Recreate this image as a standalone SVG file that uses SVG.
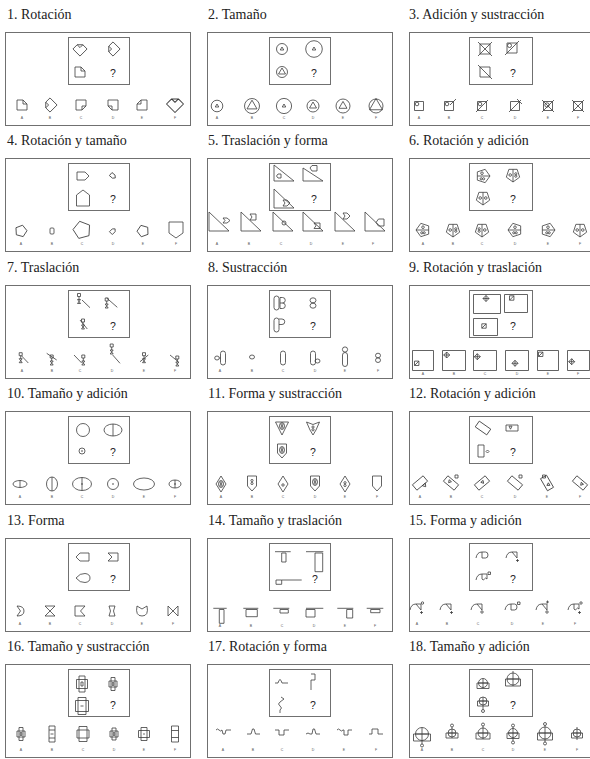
<svg xmlns="http://www.w3.org/2000/svg" width="590" height="759" viewBox="0 0 590 759">
<style>
.bg{fill:#fff}
.box{fill:none;stroke:#707070;stroke-width:1}
.f{fill:none;stroke:#3c3c3c;stroke-width:0.8;stroke-linejoin:round}
.dot{fill:#3c3c3c;stroke:none}
.t{font-family:"Liberation Serif","Times New Roman",serif;font-size:14px;fill:#222}
.q{font-family:"Liberation Sans",Arial,sans-serif;font-size:10.5px;fill:#222;text-anchor:middle}
.l{font-family:"Liberation Sans",Arial,sans-serif;font-size:3.5px;fill:#555;text-anchor:middle}
</style>
<defs>
<path id="dog" d="M-5,-5H1L5,-1V5H-5Z M1,-5V-1H5"/>
<g id="pv"><polygon points="0,-7 6.66,-2.16 4.11,5.66 -4.11,5.66 -6.66,-2.16"/><line x1="0" y1="-7" x2="0" y2="5.66"/></g>
<path id="hg" d="M-1.5,-5H1.5V-2H-1.5Z M0,-2V1 M-1.5,1H1.5L-1.5,5H1.5Z"/>
<rect id="st" x="-2.5" y="-7" width="5" height="14" rx="2.5"/>
<path id="dm" d="M0,-3L3,0L0,3L-3,0Z M-3,0H3 M0,-3V3"/>
<path id="sq" d="M-2.2,-2.2H2.2V2.2H-2.2Z M-2.2,2.2L2.2,-2.2"/>
<path id="hk" d="M-7,3 Q-6,-3 -1,-3"/>
<path id="tri" d="M-1,-3 L4,-3 L4,3 Z"/>
<path id="dbx" d="M-1,-3 H2.5 Q5,-3 5,0 Q5,3 2.5,3 H-1 Z"/>
<path id="wv" d="M-1,-3 H4 V2 Q2.5,0 1.5,2 Q0,4 -1,2 Z"/>
<path id="pl" d="M-1.5,0H1.5M0,-1.5V1.5"/>
<path id="pt" d="M-3,-2 H1 L3,0 L1,2 H-3 Z"/>
<polygon id="pg6" points="0,-6 5.71,-1.85 3.53,4.85 -3.53,4.85 -5.71,-1.85"/>
<polygon id="ti" points="-1.5,-1.3 1.5,-1.3 0,1.3"/>
</defs>
<rect class="bg" width="590" height="759"/>

<g id="p1" transform="translate(5,32)">
<text class="t" x="2" y="-13">1. Rotación</text>
<rect class="box" x="0.5" y="0.5" width="185" height="93"/>
<rect class="box" x="63.5" y="5.5" width="61" height="47"/>
<g class="f">
<use href="#dog" transform="translate(75,17) rotate(-45)"/>
<use href="#dog" transform="translate(108,17) rotate(-135)"/>
<use href="#dog" transform="translate(75,40)"/>
<use href="#dog" transform="translate(17,73)"/>
<use href="#dog" transform="translate(45,73) rotate(-135)"/>
<use href="#dog" transform="translate(76,73) rotate(90)"/>
<use href="#dog" transform="translate(108,73) rotate(180)"/>
<use href="#dog" transform="translate(137,73) rotate(-90)"/>
<use href="#dog" transform="translate(170,72) rotate(-45) scale(1.2)"/>
</g>
<text class="q" x="108" y="44.5">?</text>
<g class="l"><text x="17" y="87">A</text><text x="45" y="87">B</text><text x="76" y="87">C</text><text x="108" y="87">D</text><text x="137" y="87">E</text><text x="170" y="87">F</text></g>
</g>

<g id="p2" transform="translate(207,32)">
<text class="t" x="1" y="-13">2. Tamaño</text>
<rect class="box" x="0.5" y="0.5" width="185" height="93"/>
<rect class="box" x="62.5" y="5.5" width="61" height="47"/>
<g class="f">
<circle cx="75" cy="17" r="5.5"/><polygon points="75,15 76.75,18 73.25,18"/>
<circle cx="107" cy="17" r="8.3"/><polygon points="107,15 108.75,18 105.25,18"/>
<circle cx="75" cy="40" r="5.5"/><polygon points="75,36 78.5,42 71.5,42"/>
<circle cx="10" cy="74" r="5.8"/><polygon points="10,72 11.75,75 8.25,75"/>
<circle cx="45" cy="74" r="7.5"/><polygon points="45,68.2 50,76.9 40,76.9"/>
<circle cx="77" cy="74" r="7.6"/><polygon points="77,72 78.75,75 75.25,75"/>
<circle cx="106" cy="74" r="6"/><polygon points="106,70 109.5,76 102.5,76"/>
<circle cx="136" cy="74" r="7"/><polygon points="136,69.4 140,76.3 132,76.3"/>
<circle cx="169" cy="74" r="7"/><polygon points="169,66.5 175.5,77.75 162.5,77.75"/>
</g>
<text class="q" x="107" y="44.5">?</text>
<g class="l"><text x="10" y="87">A</text><text x="45" y="87">B</text><text x="77" y="87">C</text><text x="106" y="87">D</text><text x="136" y="87">E</text><text x="169" y="87">F</text></g>
</g>

<g id="p3" transform="translate(409,32)">
<text class="t" x="0" y="-13">3. Adición y sustracción</text>
<rect class="box" x="0.5" y="0.5" width="185" height="93"/>
<rect class="box" x="60.5" y="5.5" width="63" height="47"/>
<g class="f">
<rect x="71" y="12" width="10" height="10"/><path d="M69,10L83,24M83,10L69,24"/>
<rect x="98" y="11" width="10" height="10"/><circle cx="100.5" cy="13.5" r="2"/><path d="M96,23L110,9"/>
<rect x="71" y="35" width="10" height="10"/><path d="M69,33L83,47"/>
<rect x="5.5" y="69.5" width="9" height="9"/><circle cx="8" cy="72" r="1.8"/>
<rect x="35.5" y="69.5" width="9" height="9"/><circle cx="38" cy="72" r="1.8"/><path d="M41,73L47,67"/>
<rect x="68.5" y="69.5" width="9" height="9"/><circle cx="71" cy="72" r="1.8"/><path d="M67,80L79,68"/>
<rect x="101.5" y="69.5" width="9" height="9"/><path d="M100,80L112,68M108,67L113,72"/>
<rect x="134.5" y="69.5" width="9" height="9"/><path d="M133,68L145,80M145,68L133,80"/><circle cx="138" cy="73" r="2.2"/>
<rect x="164.5" y="69.5" width="9" height="9"/><path d="M163,68L175,80M175,68L163,80"/>
</g>
<text class="q" x="104" y="44.5">?</text>
<g class="l"><text x="10" y="87">A</text><text x="40" y="87">B</text><text x="73" y="87">C</text><text x="106" y="87">D</text><text x="139" y="87">E</text><text x="169" y="87">F</text></g>
</g>

<g id="p4" transform="translate(5,158)">
<text class="t" x="2" y="-13">4. Rotación y tamaño</text>
<rect class="box" x="0.5" y="0.5" width="185" height="93"/>
<rect class="box" x="63.5" y="5.5" width="61" height="47"/>
<g class="f">
<path d="M72,14H80L84,18L80,22H72Z"/>
<use href="#pt" transform="translate(108,18) rotate(40)"/>
<path d="M71.5,37L78,32L84.5,37V48H71.5Z"/>
<use href="#pg6" transform="translate(16,73) rotate(15)"/>
<rect x="45" y="70" width="4" height="6" rx="1"/>
<polygon points="0,-9 8.56,-2.78 5.29,7.28 -5.29,7.28 -8.56,-2.78" transform="translate(77,72) rotate(-15)"/>
<use href="#pt" transform="translate(108,73) rotate(-45)"/>
<use href="#pg6" transform="translate(138,73) rotate(-20)"/>
<path d="M164,64H178V75L171,80L164,75Z"/>
</g>
<text class="q" x="108" y="44.5">?</text>
<g class="l"><text x="16" y="87">A</text><text x="47" y="87">B</text><text x="77" y="87">C</text><text x="108" y="87">D</text><text x="138" y="87">E</text><text x="171" y="87">F</text></g>
</g>

<g id="p5" transform="translate(207,158)">
<text class="t" x="1" y="-13">5. Traslación y forma</text>
<rect class="box" x="0.5" y="0.5" width="185" height="93"/>
<rect class="box" x="62.5" y="5.5" width="61" height="47"/>
<g class="f">
<path d="M67,7V23H87Z"/><path d="M69.5,18L71,16H74V20H71Z"/>
<path d="M96,10V23H116Z"/><path d="M103,10L105,7.5H110V13H105Z"/>
<path d="M67,31V50H87Z"/><path d="M76,42H80L83,45L80,48H76L78,45Z"/>
<path d="M2,54V73H22Z"/><path d="M16,60H20L23,62.5L20,65H16L18,62.5Z"/>
<path d="M34,54V73H54Z"/><path d="M43,56H49V62H43L45,59Z"/>
<path d="M66,54V73H86Z"/><circle cx="77" cy="65" r="2"/>
<path d="M96,54V73H116Z"/><path d="M107,65H113V70.5H107L109,67.75Z"/>
<path d="M128,54V73H148Z"/><path d="M136,55H140L143,58L140,61H136L138,58Z"/>
<path d="M158,54V73H178Z"/><path d="M169,64.5L171.5,61H177V68H171.5Z"/>
</g>
<text class="q" x="107" y="44.5">?</text>
<g class="l"><text x="10" y="87">A</text><text x="42" y="87">B</text><text x="74" y="87">C</text><text x="104" y="87">D</text><text x="136" y="87">E</text><text x="166" y="87">F</text></g>
</g>

<g id="p6" transform="translate(409,158)">
<text class="t" x="0" y="-13">6. Rotación y adición</text>
<rect class="box" x="0.5" y="0.5" width="185" height="93"/>
<rect class="box" x="60.5" y="5.5" width="63" height="47"/>
<g class="f">
<g transform="translate(74,18) rotate(90)"><use href="#pv"/><circle cx="-2.8" cy="1" r="1.3"/><circle cx="2.8" cy="-0.6" r="1.1"/><circle cx="2.8" cy="1.8" r="1.1"/></g>
<g transform="translate(104,17) rotate(180)"><use href="#pv"/><circle cx="2.8" cy="0" r="1.3"/><circle cx="-2.8" cy="-1.2" r="1.1"/><circle cx="-2.8" cy="1.2" r="1.1"/></g>
<g transform="translate(74,40) rotate(180)"><use href="#pv"/><circle cx="-2.8" cy="0" r="1.3"/><circle cx="2.8" cy="0" r="1.3"/></g>
<g transform="translate(14,72) rotate(-90)"><use href="#pv"/><circle cx="-2.8" cy="-1.2" r="1.1"/><circle cx="-2.8" cy="1.2" r="1.1"/><circle cx="2.8" cy="0" r="1.3"/></g>
<g transform="translate(44,72) rotate(180)"><use href="#pv"/><circle cx="2.8" cy="0" r="1.3"/><circle cx="-2.8" cy="-1.2" r="1.1"/><circle cx="-2.8" cy="1.2" r="1.1"/></g>
<g transform="translate(73,72) rotate(180)"><use href="#pv"/><circle cx="-2.8" cy="0" r="1.3"/><circle cx="2.8" cy="-1.2" r="1.1"/><circle cx="2.8" cy="1.2" r="1.1"/></g>
<g transform="translate(106,72) rotate(-90)"><use href="#pv"/><circle cx="-2.8" cy="-1.2" r="1.1"/><circle cx="-2.8" cy="1.2" r="1.1"/><circle cx="2.8" cy="0" r="1.3"/></g>
<g transform="translate(139,72) rotate(90)"><use href="#pv"/><circle cx="2.8" cy="-1.2" r="1.1"/><circle cx="2.8" cy="1.2" r="1.1"/><circle cx="-2.8" cy="0" r="1.3"/></g>
<g transform="translate(171,72) rotate(180)"><use href="#pv"/><circle cx="-2.8" cy="0" r="1.3"/><circle cx="2.8" cy="0" r="1.3"/></g>
</g>
<text class="q" x="104" y="44.5">?</text>
<g class="l"><text x="14" y="87">A</text><text x="44" y="87">B</text><text x="73" y="87">C</text><text x="106" y="87">D</text><text x="139" y="87">E</text><text x="171" y="87">F</text></g>
</g>

<g id="p7" transform="translate(5,285)">
<text class="t" x="2" y="-13">7. Traslación</text>
<rect class="box" x="0.5" y="0.5" width="185" height="93"/>
<rect class="box" x="63.5" y="5.5" width="61" height="47"/>
<g class="f">
<use href="#hg" transform="translate(74,13.5)"/><path d="M77,15L85,22.7"/>
<use href="#hg" transform="translate(101.7,18)"/><path d="M101.7,13L112.3,22.3"/>
<use href="#hg" transform="translate(78,39)"/><path d="M75,35L82.3,44"/>
<use href="#hg" transform="translate(15.7,72.7)"/><path d="M16.7,71L23.3,78"/>
<use href="#hg" transform="translate(46.7,75)"/><path d="M41.7,68.3L51.7,75"/>
<use href="#hg" transform="translate(78.3,75)"/><path d="M69,70L76.7,78"/>
<use href="#hg" transform="translate(106.7,64)"/><path d="M107.7,70L115,78.3"/>
<use href="#hg" transform="translate(139,72.7)"/><path d="M135,76.7L143.3,70"/>
<use href="#hg" transform="translate(172.3,76)"/><path d="M165,70L173.3,76.7"/>
</g>
<text class="q" x="108" y="44.5">?</text>
<g class="l"><text x="17" y="87">A</text><text x="47" y="87">B</text><text x="75" y="87">C</text><text x="107" y="87">D</text><text x="139" y="87">E</text><text x="170" y="87">F</text></g>
</g>

<g id="p8" transform="translate(207,285)">
<text class="t" x="1" y="-13">8. Sustracción</text>
<rect class="box" x="0.5" y="0.5" width="185" height="93"/>
<rect class="box" x="62.5" y="5.5" width="61" height="47"/>
<g class="f">
<use href="#st" transform="translate(69.5,18)"/><path d="M73,12.5H75.5A2.75,2.75 0 0 1 75.5,18A2.75,2.75 0 0 1 75.5,23.5H73ZM73,18H75.5"/>
<ellipse cx="106" cy="15.3" rx="3" ry="2.5"/><ellipse cx="106" cy="20.7" rx="3" ry="2.5"/>
<use href="#st" transform="translate(69.5,40)"/><path d="M72,34H75A2.75,2.75 0 0 1 75,39.5H72"/>
<ellipse cx="10" cy="73" rx="2.3" ry="2"/><path d="M12.3,73H13.5"/><use href="#st" transform="translate(16,73)"/>
<ellipse cx="45" cy="72" rx="2.5" ry="2"/>
<use href="#st" transform="translate(76,73)"/>
<use href="#st" transform="translate(106,73)"/><ellipse cx="110.5" cy="76" rx="2.5" ry="2"/>
<use href="#st" transform="translate(138,74.5)"/><circle cx="138" cy="64.5" r="2.6"/>
<ellipse cx="171" cy="70.5" rx="2.5" ry="2.3"/><ellipse cx="171" cy="75.2" rx="2.5" ry="2.3"/>
</g>
<text class="q" x="106" y="44.5">?</text>
<g class="l"><text x="13" y="87">A</text><text x="45" y="87">B</text><text x="76" y="87">C</text><text x="108" y="87">D</text><text x="138" y="87">E</text><text x="171" y="87">F</text></g>
</g>

<g id="p9" transform="translate(409,285)">
<text class="t" x="0" y="-13">9. Rotación y traslación</text>
<rect class="box" x="0.5" y="0.5" width="185" height="93"/>
<rect class="box" x="60.5" y="5.5" width="63" height="47"/>
<g class="f">
<rect x="64.5" y="9.5" width="27" height="19"/><use href="#dm" transform="translate(77,13.5)"/>
<rect x="95.5" y="9.5" width="23" height="18"/><use href="#sq" transform="translate(102.7,13)"/>
<rect x="64.5" y="33.5" width="24" height="17"/><use href="#sq" transform="translate(75,41)"/>
<rect x="3.5" y="65.5" width="21" height="20"/><use href="#sq" transform="translate(7.7,78.3)"/>
<rect x="33.5" y="65.5" width="23" height="20"/><use href="#dm" transform="translate(37.7,70)"/>
<rect x="64.5" y="65.5" width="23" height="20"/><use href="#dm" transform="translate(68.3,71.7)"/>
<rect x="96.5" y="65.5" width="23" height="20"/><use href="#dm" transform="translate(106,78.3)"/>
<rect x="128.5" y="65.5" width="21" height="20"/><use href="#sq" transform="translate(131.7,69.3)"/>
<rect x="158.5" y="65.5" width="22" height="20"/><use href="#dm" transform="translate(162.7,76.7)"/>
</g>
<text class="q" x="104" y="44.5">?</text>
<g class="l"><text x="14" y="90">A</text><text x="45" y="90">B</text><text x="76" y="90">C</text><text x="108" y="90">D</text><text x="139" y="90">E</text><text x="169" y="90">F</text></g>
</g>

<g id="p10" transform="translate(5,411)">
<text class="t" x="2" y="-13">10. Tamaño y adición</text>
<rect class="box" x="0.5" y="0.5" width="185" height="93"/>
<rect class="box" x="63.5" y="5.5" width="61" height="47"/>
<g class="f">
<circle cx="78" cy="19" r="6.5"/>
<ellipse cx="108" cy="19" rx="9" ry="6"/><path d="M108,13V25"/>
<circle cx="77" cy="40" r="3"/><circle class="dot" cx="77" cy="40" r="0.8"/>
<ellipse cx="15" cy="73" rx="7" ry="3.5"/><path d="M15,69.5V76.5"/>
<ellipse cx="47" cy="73" rx="5.5" ry="7"/><path d="M47,66V80"/>
<ellipse cx="77" cy="73" rx="9.5" ry="6.5"/><path d="M77,66.5V79.5"/><circle class="dot" cx="77" cy="73" r="0.8"/>
<circle cx="108" cy="73" r="5.5"/><circle class="dot" cx="108" cy="73" r="0.8"/>
<ellipse cx="139" cy="73" rx="10.5" ry="6"/>
<ellipse cx="170" cy="73" rx="6" ry="4"/><path d="M170,69V77"/><circle class="dot" cx="170" cy="73" r="0.8"/>
</g>
<text class="q" x="108" y="44.5">?</text>
<g class="l"><text x="15" y="87">A</text><text x="47" y="87">B</text><text x="77" y="87">C</text><text x="108" y="87">D</text><text x="139" y="87">E</text><text x="170" y="87">F</text></g>
</g>

<g id="p11" transform="translate(207,411)">
<text class="t" x="1" y="-13">11. Forma y sustracción</text>
<rect class="box" x="0.5" y="0.5" width="185" height="93"/>
<rect class="box" x="62.5" y="5.5" width="61" height="47"/>
<g class="f">
<path d="M68.5,11H81.5L75,24Z"/><ellipse cx="75" cy="15" rx="2.5" ry="3.5"/><circle cx="75" cy="13.7" r="1"/><circle cx="75" cy="16.3" r="1"/>
<path d="M99.5,11L106,13.5L112.5,11L109,19L106,24L103,19Z"/><circle cx="106" cy="16" r="1.1"/><circle cx="106" cy="18.8" r="1.1"/>
<path d="M70.5,33H79.5V42L75,47L70.5,42Z"/><ellipse cx="75" cy="39" rx="2.5" ry="3.5"/><circle cx="75" cy="37.7" r="1"/><circle cx="75" cy="40.3" r="1"/>
<path d="M14,65L19,73L14,81L9,73Z"/><ellipse cx="14" cy="73" rx="2.5" ry="3.5"/><circle cx="14" cy="71.7" r="1"/><circle cx="14" cy="74.3" r="1"/>
<path d="M40.5,65H49.5V75L45,80L40.5,75Z"/><circle cx="45" cy="69.5" r="1.1"/><circle cx="45" cy="72.5" r="1.1"/>
<path d="M76,65L81,73L76,81L71,73Z"/><circle cx="76" cy="74" r="1.2"/>
<path d="M103.5,65H112.5V75L108,80L103.5,75Z"/><ellipse cx="108" cy="71" rx="2.5" ry="3.5"/><circle cx="108" cy="69.7" r="1"/><circle cx="108" cy="72.3" r="1"/>
<path d="M138,65L143,73L138,81L133,73Z"/><circle cx="138" cy="71.7" r="1.1"/><circle cx="138" cy="74.5" r="1.1"/>
<path d="M165.5,65H174.5V75L170,80L165.5,75Z"/>
</g>
<text class="q" x="106" y="44.5">?</text>
<g class="l"><text x="14" y="87">A</text><text x="45" y="87">B</text><text x="76" y="87">C</text><text x="108" y="87">D</text><text x="138" y="87">E</text><text x="170" y="87">F</text></g>
</g>

<g id="p12" transform="translate(409,411)">
<text class="t" x="0" y="-13">12. Rotación y adición</text>
<rect class="box" x="0.5" y="0.5" width="185" height="93"/>
<rect class="box" x="60.5" y="5.5" width="63" height="47"/>
<g class="f">
<rect x="-7" y="-3.5" width="14" height="7" transform="translate(74,17) rotate(35)"/>
<rect x="97" y="14" width="12" height="6"/><polygon points="100,15.2 103,15.2 101.5,18.2"/>
<rect x="69" y="34" width="6" height="12"/><path d="M77,40.5L78.5,39L80,40.5L78.5,42Z"/>
<g transform="translate(11,72) rotate(-40)"><rect x="-7" y="-3.5" width="14" height="7"/><polygon points="0,3.5 4,3.5 2,6.5"/></g>
<g transform="translate(42,72) rotate(40)"><rect x="-7" y="-3.5" width="14" height="7"/><use href="#ti" transform="translate(-2,0)"/></g><rect x="46" y="64" width="3" height="3"/>
<g transform="translate(73,72) rotate(-40)"><rect x="-7" y="-3.5" width="14" height="7"/><use href="#ti" transform="translate(1,0)"/></g>
<g transform="translate(106,72) rotate(40)"><rect x="-7" y="-3.5" width="14" height="7"/></g><rect x="110" y="64" width="3" height="3"/>
<g transform="translate(138,72) rotate(60)"><rect x="-7" y="-3.5" width="14" height="7"/><use href="#ti" transform="translate(2,0)"/></g><rect x="133.5" y="64" width="3" height="3"/>
<g transform="translate(171,72) rotate(40)"><rect x="-7" y="-3.5" width="14" height="7"/><use href="#ti" transform="translate(2,0)"/></g>
</g>
<text class="q" x="104" y="44.5">?</text>
<g class="l"><text x="11" y="87">A</text><text x="42" y="87">B</text><text x="73" y="87">C</text><text x="106" y="87">D</text><text x="138" y="87">E</text><text x="171" y="87">F</text></g>
</g>

<g id="p13" transform="translate(5,538)">
<text class="t" x="2" y="-13">13. Forma</text>
<rect class="box" x="0.5" y="0.5" width="185" height="93"/>
<rect class="box" x="63.5" y="5.5" width="61" height="47"/>
<g class="f">
<path d="M71,19L75,15H84V23H75Z"/>
<path d="M103,15H113V23H103L107,19Z"/>
<path d="M71,40Q75,35 80,35.5Q85,36 85,40Q85,44 80,44.5Q75,45 71,40Z"/>
<path d="M12,68Q19,68 19,73Q19,78 12,78L15.5,73Z"/>
<path d="M40,68H50L45,73L50,78H40L45,73Z"/>
<path d="M70,68H80L75.5,73L80,78H70Z"/>
<path d="M104,68H110Q107,73 110,78H104Q107,73 104,68Z"/>
<path d="M132,68L137,71L142,68Q144,78 137,78Q130,78 132,68Z"/>
<path d="M163,68V78L173,68V78Z"/>
</g>
<text class="q" x="108" y="44.5">?</text>
<g class="l"><text x="15" y="87">A</text><text x="45" y="87">B</text><text x="75" y="87">C</text><text x="107" y="87">D</text><text x="137" y="87">E</text><text x="168" y="87">F</text></g>
</g>

<g id="p14" transform="translate(207,538)">
<text class="t" x="1" y="-13">14. Tamaño y traslación</text>
<rect class="box" x="0.5" y="0.5" width="185" height="93"/>
<rect class="box" x="62.5" y="5.5" width="61" height="47"/>
<g class="f">
<path d="M68,13.7H83.7"/><rect x="74.7" y="15" width="4.3" height="9"/>
<path d="M99,13.7H116.3"/><rect x="108" y="15" width="7.7" height="18.7"/>
<rect x="69" y="42" width="5.7" height="4.3"/><path d="M74.7,42H94.7"/>
<path d="M6.3,70.3H19.7"/><rect x="12.3" y="71.5" width="4.7" height="13.8"/>
<path d="M36.3,70.3H51.3"/><rect x="39" y="71.5" width="11.3" height="7.2"/>
<path d="M66.3,70.3H82.3"/><rect x="73" y="71.5" width="8.3" height="3.5"/>
<path d="M99,70.3H116.3"/><rect x="99" y="71.5" width="9" height="7.5"/>
<path d="M130.3,70.3H146.3"/><rect x="139.7" y="71.5" width="6" height="8.5"/>
<path d="M159.7,70.3H176.3"/><rect x="163.7" y="71.5" width="9.3" height="3.2"/>
</g>
<text class="q" x="108" y="44.5">?</text>
<g class="l"><text x="13" y="89">A</text><text x="44" y="89">B</text><text x="75" y="89">C</text><text x="107" y="89">D</text><text x="138" y="89">E</text><text x="168" y="89">F</text></g>
</g>

<g id="p15" transform="translate(409,538)">
<text class="t" x="0" y="-13">15. Forma y adición</text>
<rect class="box" x="0.5" y="0.5" width="185" height="93"/>
<rect class="box" x="60.5" y="5.5" width="63" height="47"/>
<g class="f">
<g transform="translate(74,17)"><use href="#hk"/><use href="#dbx"/></g>
<g transform="translate(104,17)"><use href="#hk"/><use href="#tri"/><use href="#pl" transform="translate(4.5,5.5)"/></g>
<g transform="translate(74,39)"><use href="#hk"/><use href="#wv"/><rect x="5" y="-5" width="2.5" height="2.5"/></g>
<g transform="translate(8,69)"><use href="#hk"/><use href="#tri"/><circle cx="5.5" cy="-4" r="1.2"/><use href="#pl" transform="translate(4.5,5.5)"/></g>
<g transform="translate(38,69)"><use href="#hk"/><use href="#tri"/><use href="#pl" transform="translate(4.5,5.5)"/></g>
<g transform="translate(69,69)"><use href="#hk"/><use href="#tri"/><circle cx="4" cy="5" r="1.2"/></g>
<g transform="translate(103,69)"><use href="#hk"/><use href="#dbx"/><rect x="5.5" y="-5" width="2.5" height="2.5"/></g>
<g transform="translate(134,69)"><use href="#hk"/><use href="#tri"/><use href="#pl" transform="translate(4.5,-5)"/><circle cx="4" cy="5" r="1.2"/></g>
<g transform="translate(166,69)"><use href="#hk"/><use href="#wv"/><circle cx="6" cy="-4" r="1.2"/><use href="#pl" transform="translate(4.5,5.5)"/></g>
</g>
<text class="q" x="104" y="44.5">?</text>
<g class="l"><text x="8" y="87">A</text><text x="38" y="87">B</text><text x="69" y="87">C</text><text x="103" y="87">D</text><text x="134" y="87">E</text><text x="166" y="87">F</text></g>
</g>

<g id="p16" transform="translate(5,664)">
<text class="t" x="2" y="-13">16. Tamaño y sustracción</text>
<rect class="box" x="0.5" y="0.5" width="185" height="93"/>
<rect class="box" x="63.5" y="5.5" width="61" height="47"/>
<g class="f">
<rect x="74" y="12" width="6" height="16"/><rect x="71.5" y="15.5" width="11" height="9"/><rect x="76" y="18" width="2" height="4"/>
<rect x="106" y="13.5" width="4" height="13"/><rect x="104" y="17" width="8" height="6"/><rect x="107.3" y="18.5" width="1.4" height="3"/>
<rect x="73" y="33.5" width="8" height="17"/><rect x="70.5" y="36.5" width="13" height="11"/><path d="M75.5,42H78.5"/>
<rect x="14" y="63.5" width="4" height="13"/><rect x="12" y="67" width="8" height="6"/><rect x="15.3" y="68.5" width="1.4" height="3"/>
<rect x="44" y="62" width="6" height="16"/><path d="M44,66H50M44,74H50M45.5,70H48.5"/>
<rect x="74" y="62.5" width="8" height="15"/><rect x="72" y="66" width="12" height="8"/>
<rect x="107" y="64" width="4" height="12"/><rect x="105" y="67" width="8" height="6"/><rect x="108.3" y="68.5" width="1.4" height="3"/>
<rect x="136" y="63.5" width="6" height="13"/><rect x="133.5" y="66.5" width="11" height="7"/><circle class="dot" cx="139" cy="70" r="0.7"/>
<rect x="166.5" y="62" width="7" height="16"/><path d="M166.5,66.5H173.5M166.5,73.5H173.5"/>
</g>
<text class="q" x="108" y="44.5">?</text>
<g class="l"><text x="16" y="87">A</text><text x="47" y="87">B</text><text x="78" y="87">C</text><text x="109" y="87">D</text><text x="139" y="87">E</text><text x="170" y="87">F</text></g>
</g>

<g id="p17" transform="translate(207,664)">
<text class="t" x="1" y="-13">17. Rotación y forma</text>
<rect class="box" x="0.5" y="0.5" width="185" height="93"/>
<rect class="box" x="62.5" y="5.5" width="61" height="47"/>
<g class="f">
<path d="M68,19H71Q73,12 75,19H81"/>
<path d="M104,10H108V16H104V26"/>
<path d="M74,33L77,35L73,38Q70,40 73,42Q76,44 73,46V49"/>
<path d="M9,66Q10.5,64 12,66Q13.5,68 15,66L16,70H18L19,66H24"/>
<path d="M40,70H44L45.5,65H47L48.5,70H53"/>
<path d="M68,66H72V71H77V66H82"/>
<path d="M99,70Q101,68 103,70H105L106,65H107.5L109,70H113"/>
<path d="M130,66Q131.5,64 133,66Q134.5,68 136,66H137V71H141V66H145"/>
<path d="M162,70H165V65H171V70H176"/>
</g>
<text class="q" x="106" y="44.5">?</text>
<g class="l"><text x="16" y="87">A</text><text x="46" y="87">B</text><text x="75" y="87">C</text><text x="106" y="87">D</text><text x="137" y="87">E</text><text x="169" y="87">F</text></g>
</g>

<g id="p18" transform="translate(409,664)">
<text class="t" x="0" y="-13">18. Tamaño y adición</text>
<rect class="box" x="0.5" y="0.5" width="185" height="93"/>
<rect class="box" x="60.5" y="5.5" width="63" height="47"/>
<g class="f">
<circle cx="74" cy="19" r="4.5"/><path d="M69.5,19H78.5M74,14.5V24"/><rect x="68" y="19" width="12" height="5.5"/>
<circle cx="104" cy="15" r="6"/><path d="M98,15H110M104,7V22"/><rect x="96.5" y="15" width="15" height="7"/>
<circle cx="74" cy="37" r="4"/><path d="M70,37H78M74,33V45.5"/><rect x="68.5" y="37" width="11" height="5"/><circle cx="74" cy="47" r="1.5"/>
<circle cx="13" cy="70" r="6.5"/><path d="M6.5,70H19.5M13,63.5V80"/><rect x="4.5" y="70" width="17" height="7"/><circle cx="13" cy="81.5" r="1.5"/>
<circle cx="43" cy="61.5" r="1.5"/><path d="M43,63V74M39,69H47"/><circle cx="43" cy="69" r="4"/><rect x="37" y="69" width="12" height="5"/>
<circle cx="74" cy="60.5" r="1.5"/><path d="M74,62V75M69,69H79"/><circle cx="74" cy="69" r="5"/><rect x="67" y="69" width="14" height="6"/>
<circle cx="104" cy="61.5" r="1.5"/><path d="M104,63V77M99.5,69H108.5"/><circle cx="104" cy="69" r="4.5"/><rect x="98" y="69" width="12" height="5.5"/><circle cx="104" cy="78.5" r="1.5"/>
<circle cx="136" cy="60" r="1.5"/><path d="M136,61.5V78M130,69H142"/><circle cx="136" cy="69" r="6"/><rect x="128.5" y="69" width="15" height="7"/><circle cx="136" cy="79.5" r="1.5"/>
<circle cx="168" cy="69" r="4"/><path d="M164,69H172M168,63V76"/><rect x="162.5" y="69" width="11" height="5"/>
</g>
<text class="q" x="104" y="44.5">?</text>
<g class="l"><text x="13" y="87">A</text><text x="43" y="87">B</text><text x="74" y="87">C</text><text x="104" y="87">D</text><text x="136" y="87">E</text><text x="168" y="87">F</text></g>
</g>
</svg>
